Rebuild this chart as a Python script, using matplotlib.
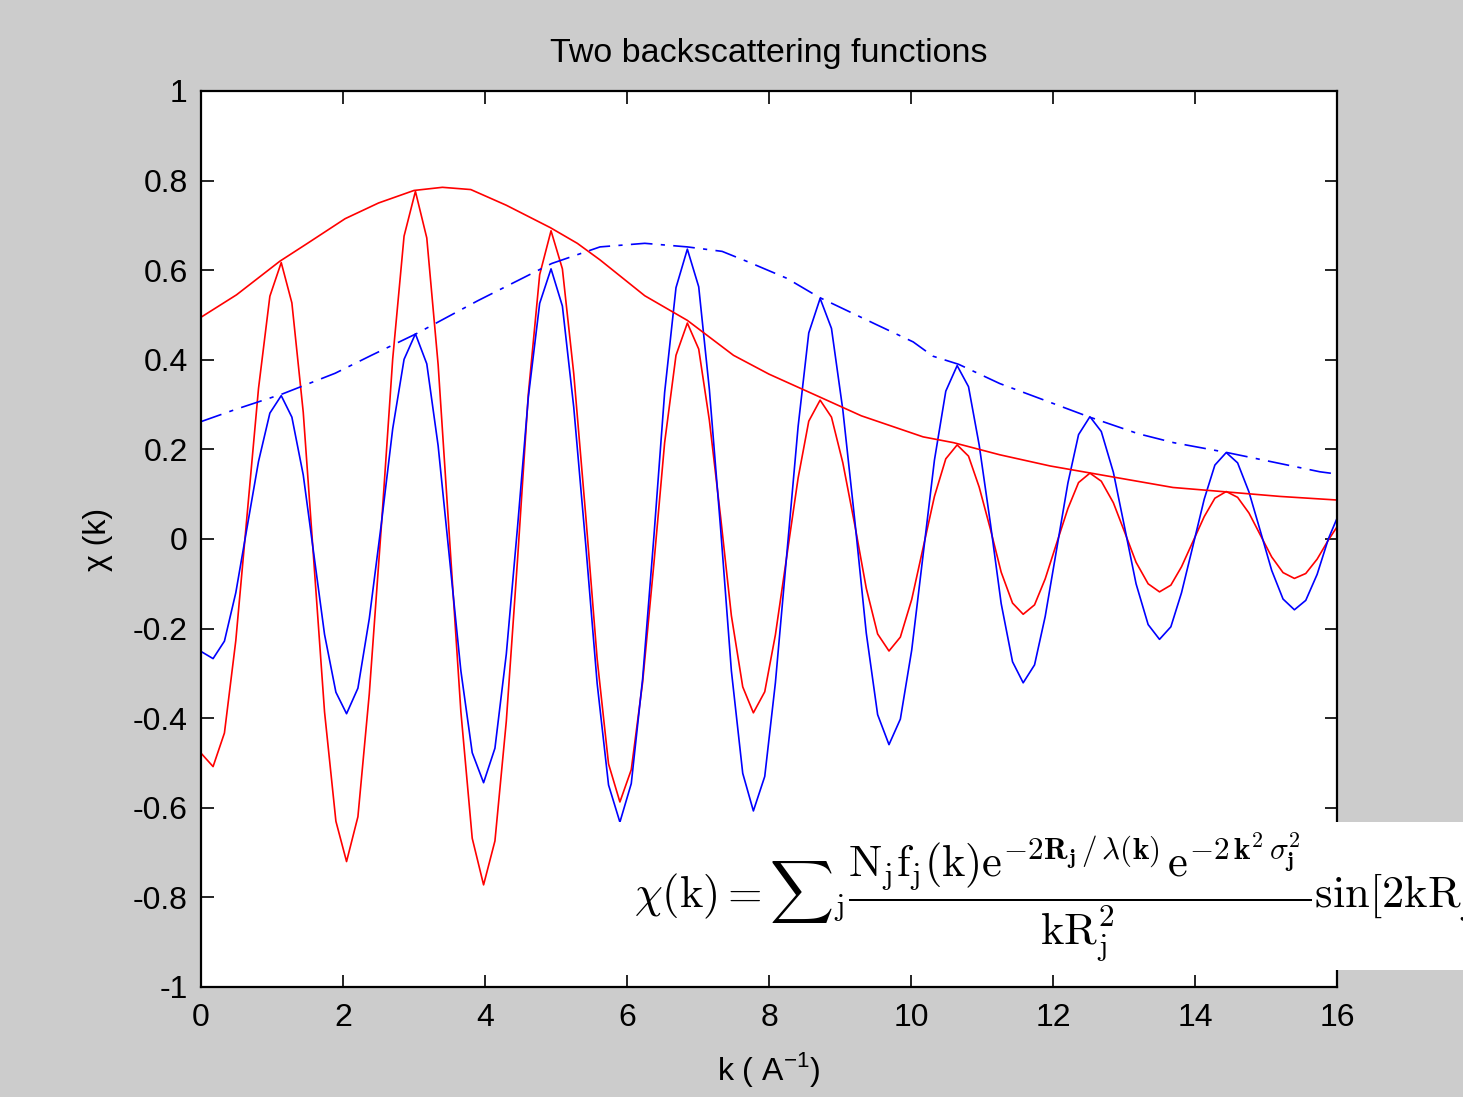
import matplotlib
matplotlib.use("Agg")
import matplotlib.pyplot as plt
from matplotlib.patches import Rectangle

# wavenumber samples shared by both oscillating signals
k = [0.0, 0.17, 0.33, 0.49, 0.65, 0.81, 0.97,
     1.13, 1.28, 1.44, 1.59, 1.74, 1.90,
     2.05, 2.21, 2.37, 2.54, 2.70, 2.86,
     3.02, 3.18, 3.34, 3.50, 3.66, 3.82,
     3.98, 4.14, 4.30, 4.46, 4.61, 4.77,
     4.93, 5.09, 5.25, 5.42, 5.58, 5.74,
     5.90, 6.06, 6.22, 6.38, 6.53, 6.69,
     6.85, 7.01, 7.16, 7.32, 7.47, 7.63,
     7.78, 7.94, 8.09, 8.25, 8.41, 8.56,
     8.72, 8.88, 9.04, 9.21, 9.37, 9.53,
     9.69, 9.85, 10.01, 10.17, 10.33, 10.49,
     10.65, 10.81, 10.96, 11.12, 11.27, 11.43,
     11.58, 11.74, 11.89, 12.05, 12.21, 12.36,
     12.52, 12.68, 12.85, 13.01, 13.17, 13.34,
     13.50, 13.66, 13.81, 13.97, 14.13, 14.28,
     14.44, 14.60, 14.76, 14.92, 15.08, 15.24,
     15.40, 15.56, 15.72, 15.88, 16.0]

chi_red = [-0.478, -0.508, -0.433, -0.227, 0.055, 0.336, 0.542,
           0.617, 0.527, 0.283, -0.052, -0.386, -0.630,
           -0.720, -0.620, -0.346, 0.028, 0.402, 0.676,
           0.776, 0.672, 0.389, 0.002, -0.385, -0.668,
           -0.772, -0.674, -0.407, -0.042, 0.323, 0.590,
           0.688, 0.603, 0.369, 0.050, -0.268, -0.502,
           -0.587, -0.515, -0.320, -0.053, 0.215, 0.410,
           0.482, 0.424, 0.265, 0.047, -0.171, -0.330,
           -0.388, -0.341, -0.214, -0.039, 0.136, 0.263,
           0.310, 0.272, 0.170, 0.030, -0.110, -0.212,
           -0.250, -0.219, -0.135, -0.020, 0.095, 0.179,
           0.210, 0.185, 0.116, 0.021, -0.074, -0.143,
           -0.168, -0.147, -0.089, -0.010, 0.068, 0.126,
           0.147, 0.129, 0.081, 0.015, -0.052, -0.100,
           -0.118, -0.103, -0.062, -0.006, 0.050, 0.091,
           0.106, 0.093, 0.058, 0.009, -0.040, -0.075,
           -0.088, -0.077, -0.045, -0.002, 0.027]

chi_blue = [-0.251, -0.267, -0.228, -0.120, 0.027, 0.173, 0.281,
            0.320, 0.272, 0.143, -0.035, -0.213, -0.342,
            -0.390, -0.333, -0.178, 0.034, 0.246, 0.401,
            0.458, 0.391, 0.208, -0.043, -0.294, -0.477,
            -0.544, -0.467, -0.257, 0.030, 0.316, 0.526,
            0.603, 0.520, 0.294, -0.015, -0.323, -0.549,
            -0.632, -0.546, -0.312, 0.008, 0.327, 0.561,
            0.647, 0.563, 0.334, 0.020, -0.294, -0.523,
            -0.607, -0.530, -0.321, -0.035, 0.251, 0.460,
            0.537, 0.470, 0.288, 0.039, -0.210, -0.392,
            -0.459, -0.402, -0.248, -0.036, 0.176, 0.330,
            0.387, 0.340, 0.210, 0.033, -0.144, -0.274,
            -0.321, -0.281, -0.173, -0.024, 0.125, 0.233,
            0.273, 0.240, 0.149, 0.025, -0.100, -0.191,
            -0.224, -0.196, -0.120, -0.016, 0.089, 0.165,
            0.193, 0.170, 0.105, 0.018, -0.070, -0.134,
            -0.158, -0.137, -0.079, 0.001, 0.046]

# envelopes (backscattering amplitudes)
k_env_red = [0.0, 0.5, 1.11, 1.5, 2.03, 2.5, 3.0, 3.4, 3.8, 4.3, 4.92, 5.3,
             5.62, 6.25, 6.85, 7.5, 8.0, 8.7, 9.3, 10.17, 10.6, 11.25, 11.96,
             12.5, 13.69, 14.45, 15.2, 16.0]
env_red = [0.495, 0.545, 0.62, 0.66, 0.715, 0.75, 0.778, 0.785, 0.78, 0.745,
           0.695, 0.66, 0.623, 0.543, 0.488, 0.41, 0.368, 0.318, 0.275, 0.228,
           0.215, 0.188, 0.163, 0.148, 0.115, 0.105, 0.095, 0.087]

k_env_blue = [0.0, 0.5, 1.15, 1.89, 2.4, 3.03, 3.9, 4.94, 5.62, 6.25, 6.85,
              7.34, 7.73, 8.25, 8.7, 9.52, 10.03, 10.31, 10.67, 11.25, 11.91,
              12.5, 13.2, 13.7, 14.45, 15.0, 15.76, 16.0]
env_blue = [0.262, 0.29, 0.324, 0.37, 0.41, 0.458, 0.532, 0.615, 0.652, 0.66,
            0.652, 0.642, 0.617, 0.582, 0.54, 0.478, 0.44, 0.408, 0.39, 0.347,
            0.308, 0.273, 0.235, 0.215, 0.193, 0.175, 0.15, 0.145]

xticks = [0, 2, 4, 6, 8, 10, 12, 14, 16]
yticks = [-1, -0.8, -0.6, -0.4, -0.2, 0, 0.2, 0.4, 0.6, 0.8, 1]
ytick_labels = ["-1", "-0.8", "-0.6", "-0.4", "-0.2", "0", "0.2", "0.4", "0.6", "0.8", "1"]

plt.rcParams['font.family'] = ['Liberation Sans', 'DejaVu Sans']
plt.rcParams['mathtext.fontset'] = 'custom'
plt.rcParams['mathtext.rm'] = 'Liberation Sans'

W, H = 1463, 1097
fig = plt.figure(figsize=(W / 100, H / 100), dpi=100, facecolor='#cccccc')
ax = fig.add_axes([201 / W, 1 - 987 / H, 1136 / W, 896 / H])
ax.set_facecolor('white')

ax.plot(k, chi_red, color='#ff0000', lw=1.2)
ax.plot(k, chi_blue, color='#0000ff', lw=1.2)
ax.plot(k_env_red, env_red, color='#ff0000', lw=1.2)
ax.plot(k_env_blue, env_blue, color='#0000ff', lw=1.2, dashes=(13, 5, 2.5, 5))

ax.set_xlim(0, 16)
ax.set_ylim(-1, 1)
ax.set_xticks(xticks)
ax.set_xticklabels([str(t) for t in xticks])
ax.set_yticks(yticks)
ax.set_yticklabels(ytick_labels)
ax.tick_params(direction='in', length=9, width=1.2, top=True, right=True,
               labelsize=23, colors='black')
ax.tick_params(axis='x', pad=11.5)
ax.tick_params(axis='y', pad=9.5)
for s in ax.spines.values():
    s.set_linewidth(1.6)
    s.set_color('black')

ax.set_title("Two backscattering functions", fontsize=24.5, pad=21)
ax.set_xlabel("k ( A$^{-1}$)", fontsize=23, labelpad=12)
ax.set_ylabel("\u03c7 (k)", fontsize=23, labelpad=14)

# white box with the EXAFS equation, running off the right edge as in the original
fig.patches.append(Rectangle((612 / W, 1 - 970 / H), 1 - 612 / W, 148 / H,
                             transform=fig.transFigure, facecolor='white',
                             edgecolor='none', zorder=5))
eq = (r"$\chi(\mathrm{k}) = {\sum}_{\mathrm{j}}"
      r"\dfrac{\mathrm{N_jf_j(k)e}^{\mathbf{-2R_j}\,/\,\lambda\mathbf{(k)}\,}"
      r"\mathrm{e}^{\mathbf{-2}\,\mathbf{k^2}\,\sigma_{\mathbf{j}}^{\mathbf{2}}\,}}{\mathrm{kR_j^2}}"
      r"\mathrm{sin[2kR_j + \delta_j(k)]}$")
fig.text(634 / W, 1 - 897 / H, eq, fontsize=32, va='center', ha='left',
         zorder=6, math_fontfamily='cm')

fig.savefig("out.png", dpi=100, facecolor=fig.get_facecolor())
